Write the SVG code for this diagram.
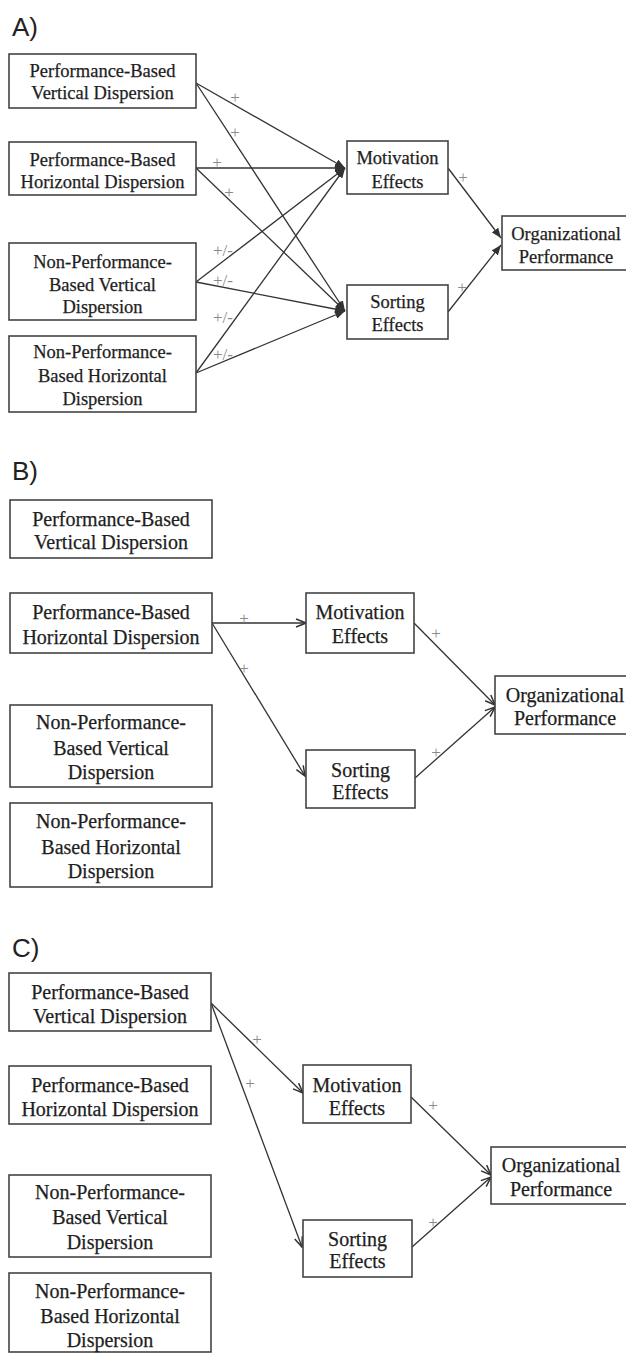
<svg xmlns="http://www.w3.org/2000/svg" width="626" height="1354" viewBox="0 0 626 1354">
<style>
.bg{fill:#ffffff}
.box{fill:#ffffff;stroke:#444;stroke-width:1.6}
.t{font-family:"Liberation Serif","Times New Roman",serif;fill:#1e1e1e;stroke:#1e1e1e;stroke-width:0.25;text-anchor:middle}
.ta{font-size:18.5px}
.tb{font-size:20px}
.lab{font-family:"Liberation Sans",Arial,sans-serif;font-size:26px;fill:#222}
.sg{font-family:"Liberation Serif","Times New Roman",serif;font-size:17px;fill:#8a8a8a;text-anchor:middle}
.ln{stroke:#333;stroke-width:1.3;fill:none}
.fa{marker-end:url(#af)}
.oa{marker-end:url(#ao)}
</style>
<defs>
<marker id="af" viewBox="0 0 10 8" refX="10" refY="4" markerWidth="10" markerHeight="8" markerUnits="userSpaceOnUse" orient="auto"><path d="M0,0 L10,4 L0,8 Z" fill="#333"/></marker>
<marker id="ao" viewBox="0 0 12 10" refX="11" refY="5" markerWidth="12" markerHeight="10" markerUnits="userSpaceOnUse" orient="auto"><path d="M1,1 L11,5 L1,9" fill="none" stroke="#333" stroke-width="1.5"/></marker>
</defs>
<rect class="bg" x="0" y="0" width="626" height="1354"/>

<!-- Panel A -->
<text class="lab" x="12" y="36">A)</text>
<g id="connectors-A">
<line class="ln fa" x1="196" y1="83" x2="345" y2="168"/>
<line class="ln fa" x1="196" y1="83" x2="345" y2="311"/>
<line class="ln fa" x1="196" y1="168" x2="345" y2="168"/>
<line class="ln fa" x1="196" y1="168" x2="345" y2="311"/>
<line class="ln fa" x1="196" y1="282" x2="345" y2="168"/>
<line class="ln fa" x1="196" y1="282" x2="345" y2="311"/>
<line class="ln fa" x1="196" y1="373" x2="345" y2="168"/>
<line class="ln fa" x1="196" y1="373" x2="345" y2="311"/>
<line class="ln fa" x1="448" y1="168" x2="501" y2="238"/>
<line class="ln fa" x1="448" y1="312" x2="501" y2="245"/>
<text class="sg" x="235" y="103">+</text>
<text class="sg" x="235" y="138">+</text>
<text class="sg" x="217" y="168">+</text>
<text class="sg" x="229" y="198">+</text>
<text class="sg" x="223" y="256">+/-</text>
<text class="sg" x="223" y="286">+/-</text>
<text class="sg" x="223" y="323">+/-</text>
<text class="sg" x="223" y="360">+/-</text>
<text class="sg" x="463" y="183">+</text>
<text class="sg" x="462" y="293">+</text>
</g>
<g id="A-pbv"><rect class="box" x="9" y="54" width="187" height="54"/><text class="t ta" x="102.5" y="77">Performance-Based</text><text class="t ta" x="102.5" y="99">Vertical Dispersion</text></g>
<g id="A-pbh"><rect class="box" x="9" y="142" width="187" height="53"/><text class="t ta" x="102.5" y="166">Performance-Based</text><text class="t ta" x="102.5" y="188">Horizontal Dispersion</text></g>
<g id="A-npbv"><rect class="box" x="9" y="243" width="187" height="77"/><text class="t ta" x="102.5" y="268">Non-Performance-</text><text class="t ta" x="102.5" y="291">Based Vertical</text><text class="t ta" x="102.5" y="313">Dispersion</text></g>
<g id="A-npbh"><rect class="box" x="9" y="336" width="187" height="76"/><text class="t ta" x="102.5" y="358">Non-Performance-</text><text class="t ta" x="102.5" y="382">Based Horizontal</text><text class="t ta" x="102.5" y="405">Dispersion</text></g>
<g id="A-mot"><rect class="box" x="347" y="141" width="101" height="53"/><text class="t ta" x="397.5" y="164">Motivation</text><text class="t ta" x="397.5" y="188">Effects</text></g>
<g id="A-sort"><rect class="box" x="347" y="285" width="101" height="54"/><text class="t ta" x="397.5" y="308">Sorting</text><text class="t ta" x="397.5" y="331">Effects</text></g>
<g id="A-org"><rect class="box" x="502" y="216" width="140" height="54"/><text class="t ta" x="566" y="240">Organizational</text><text class="t ta" x="566" y="263">Performance</text></g>

<!-- Panel B -->
<text class="lab" x="12" y="480">B)</text>
<g id="connectors-B">
<line class="ln oa" x1="212" y1="623" x2="306" y2="623"/>
<line class="ln oa" x1="212" y1="623" x2="305" y2="776"/>
<line class="ln oa" x1="414" y1="623" x2="495" y2="705"/>
<line class="ln oa" x1="415" y1="778" x2="495" y2="707"/>
<text class="sg" x="244" y="624">+</text>
<text class="sg" x="244" y="674">+</text>
<text class="sg" x="436" y="639">+</text>
<text class="sg" x="436" y="758">+</text>
</g>
<g id="B-pbv"><rect class="box" x="10" y="500" width="202" height="58"/><text class="t tb" x="111" y="526">Performance-Based</text><text class="t tb" x="111" y="549">Vertical Dispersion</text></g>
<g id="B-pbh"><rect class="box" x="10" y="593" width="202" height="60"/><text class="t tb" x="111" y="619">Performance-Based</text><text class="t tb" x="111" y="644">Horizontal Dispersion</text></g>
<g id="B-npbv"><rect class="box" x="10" y="705" width="202" height="82"/><text class="t tb" x="111" y="729">Non-Performance-</text><text class="t tb" x="111" y="755">Based Vertical</text><text class="t tb" x="111" y="779">Dispersion</text></g>
<g id="B-npbh"><rect class="box" x="10" y="803" width="202" height="84"/><text class="t tb" x="111" y="828">Non-Performance-</text><text class="t tb" x="111" y="854">Based Horizontal</text><text class="t tb" x="111" y="878">Dispersion</text></g>
<g id="B-mot"><rect class="box" x="306" y="593" width="108" height="60"/><text class="t tb" x="360" y="619">Motivation</text><text class="t tb" x="360" y="643">Effects</text></g>
<g id="B-sort"><rect class="box" x="306" y="750" width="109" height="58"/><text class="t tb" x="360.5" y="777">Sorting</text><text class="t tb" x="360.5" y="799">Effects</text></g>
<g id="B-org"><rect class="box" x="495" y="676" width="140" height="58"/><text class="t tb" x="565" y="702">Organizational</text><text class="t tb" x="565" y="725">Performance</text></g>

<!-- Panel C -->
<text class="lab" x="12" y="957">C)</text>
<g id="connectors-C">
<line class="ln oa" x1="211" y1="1003" x2="303" y2="1093"/>
<line class="ln oa" x1="211" y1="1003" x2="302" y2="1247"/>
<line class="ln oa" x1="411" y1="1097" x2="491" y2="1175"/>
<line class="ln oa" x1="412" y1="1247" x2="491" y2="1177"/>
<text class="sg" x="257" y="1045">+</text>
<text class="sg" x="250" y="1089">+</text>
<text class="sg" x="433" y="1111">+</text>
<text class="sg" x="433" y="1228">+</text>
</g>
<g id="C-pbv"><rect class="box" x="9" y="973" width="202" height="58"/><text class="t tb" x="110" y="999">Performance-Based</text><text class="t tb" x="110" y="1023">Vertical Dispersion</text></g>
<g id="C-pbh"><rect class="box" x="9" y="1066" width="202" height="58"/><text class="t tb" x="110" y="1092">Performance-Based</text><text class="t tb" x="110" y="1116">Horizontal Dispersion</text></g>
<g id="C-npbv"><rect class="box" x="9" y="1175" width="202" height="82"/><text class="t tb" x="110" y="1199">Non-Performance-</text><text class="t tb" x="110" y="1224">Based Vertical</text><text class="t tb" x="110" y="1249">Dispersion</text></g>
<g id="C-npbh"><rect class="box" x="9" y="1273" width="202" height="79"/><text class="t tb" x="110" y="1298">Non-Performance-</text><text class="t tb" x="110" y="1323">Based Horizontal</text><text class="t tb" x="110" y="1347">Dispersion</text></g>
<g id="C-mot"><rect class="box" x="303" y="1065" width="108" height="58"/><text class="t tb" x="357" y="1092">Motivation</text><text class="t tb" x="357" y="1115">Effects</text></g>
<g id="C-sort"><rect class="box" x="303" y="1220" width="109" height="57"/><text class="t tb" x="357.5" y="1246">Sorting</text><text class="t tb" x="357.5" y="1268">Effects</text></g>
<g id="C-org"><rect class="box" x="491" y="1147" width="140" height="57"/><text class="t tb" x="561" y="1172">Organizational</text><text class="t tb" x="561" y="1196">Performance</text></g>
</svg>
